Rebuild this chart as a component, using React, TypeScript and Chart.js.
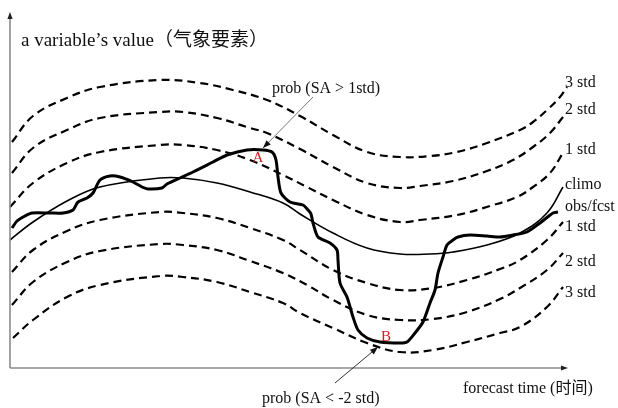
import { useEffect, useRef } from "react";
import { Chart, registerables } from "chart.js";

Chart.register(...registerables);

const timeMax = 558;
const valueMax = 356;

const plus3Std: [number, number][] = [
  [2, 226], [23, 252], [57, 270], [90, 281], [150, 288], [190, 285], [223, 278], [257, 268],
  [290, 252], [323, 233], [357, 216], [390, 211], [420, 212], [447, 216], [477, 225], [510, 238],
  [523, 246], [537, 258], [550, 271], [557, 281],
];
const plus2Std: [number, number][] = [
  [2, 195], [23, 220], [57, 238], [90, 250], [150, 256], [173, 256], [207, 250], [240, 240],
  [257, 235], [290, 219], [323, 201], [357, 185], [390, 180], [410, 182], [443, 187], [477, 197],
  [503, 208], [523, 221], [540, 235], [553, 251],
];
const plus1Std: [number, number][] = [
  [0, 161], [23, 185], [57, 205], [90, 216], [150, 223], [173, 223], [207, 218], [240, 208],
  [273, 193], [297, 181], [323, 168], [357, 153], [390, 146], [410, 148], [447, 153], [480, 162],
  [507, 171], [523, 181], [540, 195], [553, 215],
];
const climo: [number, number][] = [
  [0, 128], [23, 146], [57, 167], [90, 181], [150, 190], [173, 190], [207, 185], [240, 176],
  [273, 165], [290, 154], [323, 135], [357, 120], [390, 114], [420, 114], [443, 116], [477, 123],
  [510, 135], [537, 155], [553, 181],
];
const minus1Std: [number, number][] = [
  [2, 96], [23, 118], [57, 137], [90, 148], [150, 156], [173, 155], [207, 150], [240, 140],
  [273, 128], [290, 118], [323, 98], [357, 85], [390, 78], [423, 80], [457, 88], [490, 99],
  [510, 108], [537, 128], [553, 146],
];
const minus2Std: [number, number][] = [
  [2, 63], [23, 86], [57, 106], [90, 117], [150, 124], [173, 123], [207, 118], [240, 107],
  [273, 95], [297, 83], [323, 68], [357, 53], [390, 48], [423, 49], [457, 56], [490, 69],
  [510, 80], [537, 98], [553, 115],
];
const minus3Std: [number, number][] = [
  [3, 30], [23, 48], [57, 71], [90, 83], [150, 92], [173, 91], [207, 86], [240, 76],
  [273, 65], [290, 55], [323, 40], [357, 25], [390, 16], [423, 18], [457, 26], [490, 35],
  [510, 41], [537, 61], [553, 81],
];
const obsFcst: [number, number][] = [
  [2, 140], [7, 147], [15, 152], [22, 155], [40, 155], [53, 155], [63, 158], [68, 166],
  [77, 170], [83, 175], [90, 188], [100, 192], [110, 191], [123, 186], [132, 181], [138, 179],
  [152, 180], [157, 184], [170, 190], [183, 196], [203, 206], [217, 213], [237, 218], [253, 218],
  [262, 216], [266, 208], [268, 191], [271, 175], [280, 166], [293, 163], [298, 158], [301, 154],
  [303, 145], [308, 131], [320, 125], [327, 118], [328, 108], [330, 85], [337, 71], [343, 51],
  [348, 38], [357, 30], [370, 26], [390, 25], [397, 26], [405, 35], [413, 46], [420, 65],
  [425, 78], [428, 95], [433, 111], [437, 123], [443, 128], [448, 131], [460, 133], [477, 132],
  [490, 131], [503, 133], [517, 136], [530, 145], [543, 155], [548, 156],
];

// text annotations: [text, time, value, colour, size]
const curveLabels: [string, number, number][] = [
  ["3 std", 555, 285],
  ["2 std", 555, 258],
  ["1 std", 555, 218],
  ["climo", 555, 183],
  ["obs/fcst", 555, 161],
  ["1 std", 555, 141],
  ["2 std", 555, 106],
  ["3 std", 555, 75],
];
const yTitle = "a variable\u2019s value（气象要素）";
const xTitle = "forecast time (时间)";
const probAbove = "prob (SA > 1std)";
const probBelow = "prob (SA < -2 std)";

const SERIF = '"Liberation Serif", "Times New Roman", "Noto Sans CJK SC", serif';

export default function App() {
  const ref = useRef<HTMLCanvasElement>(null);

  useEffect(() => {
    const canvas = ref.current;
    if (!canvas) return;
    const pts = (a: [number, number][]) => a.map(([x, y]) => ({ x, y }));
    const dashed = (label: string, arr: [number, number][]) => ({
      label,
      data: pts(arr),
      borderColor: "#000",
      borderWidth: 2.2,
      borderDash: [8, 5],
      borderCapStyle: "butt" as const,
      pointRadius: 0,
      tension: 0.4,
      fill: false,
      clip: false as const,
    });

    const overlay = {
      id: "overlay",
      afterDraw(chart: any) {
        const ctx: CanvasRenderingContext2D = chart.ctx;
        const xs = chart.scales.x;
        const ys = chart.scales.y;
        const px = (t: number) => xs.getPixelForValue(t);
        const py = (v: number) => ys.getPixelForValue(v);
        const x0 = px(0);
        const y0 = py(0);
        const xEnd = px(timeMax);
        const yEnd = py(valueMax);

        const head = (fx: number, fy: number, tx: number, ty: number, len: number, w: number, col: string) => {
          const a = Math.atan2(ty - fy, tx - fx);
          ctx.save();
          ctx.fillStyle = col;
          ctx.beginPath();
          ctx.moveTo(tx, ty);
          ctx.lineTo(tx - len * Math.cos(a) + w * Math.sin(a), ty - len * Math.sin(a) - w * Math.cos(a));
          ctx.lineTo(tx - len * Math.cos(a) - w * Math.sin(a), ty - len * Math.sin(a) + w * Math.cos(a));
          ctx.closePath();
          ctx.fill();
          ctx.restore();
        };
        const arrow = (fx: number, fy: number, tx: number, ty: number, col: string, hc: string) => {
          ctx.save();
          ctx.strokeStyle = col;
          ctx.lineWidth = 1;
          ctx.setLineDash([]);
          ctx.beginPath();
          ctx.moveTo(fx, fy);
          ctx.lineTo(tx, ty);
          ctx.stroke();
          ctx.restore();
          head(fx, fy, tx, ty, 8, 3, hc);
        };

        // axes
        ctx.save();
        ctx.strokeStyle = "#8c8c8c";
        ctx.lineWidth = 1.6;
        ctx.beginPath();
        ctx.moveTo(x0, y0);
        ctx.lineTo(x0, yEnd + 4);
        ctx.moveTo(x0, y0);
        ctx.lineTo(xEnd - 4, y0);
        ctx.stroke();
        ctx.restore();
        head(x0, y0, x0, yEnd, 7, 2.6, "#222");
        head(x0, y0, xEnd, y0, 7, 2.6, "#222");

        // annotation arrows
        arrow(px(303), py(271), px(253), py(220), "#777", "#111");
        arrow(px(325), py(-15), px(368), py(21), "#333", "#111");

        ctx.save();
        ctx.textBaseline = "middle";
        ctx.textAlign = "left";
        ctx.fillStyle = "#111";
        ctx.font = `19px ${SERIF}`;
        ctx.fillText(yTitle, px(11), py(327));
        ctx.font = `16px ${SERIF}`;
        ctx.fillText(xTitle, px(453), py(-21));
        ctx.fillText(probAbove, px(262), py(279));
        ctx.fillText(probBelow, px(252), py(-31));
        for (const [text, t, v] of curveLabels) ctx.fillText(text, px(t), py(v));
        ctx.fillStyle = "#d42020";
        ctx.font = `15px ${SERIF}`;
        ctx.textAlign = "center";
        ctx.fillText("A", px(248), py(210));
        ctx.fillText("B", px(376), py(31));
        ctx.restore();
      },
    };

    const chart = new Chart(canvas, {
      type: "line",
      data: {
        datasets: [
          dashed("3 std", plus3Std),
          dashed("2 std", plus2Std),
          dashed("1 std", plus1Std),
          {
            label: "climo",
            data: pts(climo),
            borderColor: "#000",
            borderWidth: 1.6,
            pointRadius: 0,
            tension: 0.4,
            fill: false,
            clip: false as const,
          },
          dashed("-1 std", minus1Std),
          dashed("-2 std", minus2Std),
          dashed("-3 std", minus3Std),
          {
            label: "obs/fcst",
            data: pts(obsFcst),
            borderColor: "#000",
            borderWidth: 3,
            pointRadius: 0,
            tension: 0.25,
            borderJoinStyle: "round" as const,
            fill: false,
            clip: false as const,
          },
        ],
      },
      options: {
        animation: false,
        responsive: false,
        maintainAspectRatio: false,
        events: [],
        layout: { padding: { left: 10, top: 12, right: 50, bottom: 40 } },
        plugins: { legend: { display: false }, tooltip: { enabled: false }, title: { display: false } },
        scales: {
          x: { type: "linear", min: 0, max: timeMax, display: false },
          y: { type: "linear", min: 0, max: valueMax, display: false },
        },
      },
      plugins: [overlay],
    } as any);
    return () => chart.destroy();
  }, []);

  return (
    <div style={{ position: "fixed", left: 0, top: 0, width: 618, height: 408, background: "#fff" }}>
      <canvas ref={ref} width={618} height={408} style={{ display: "block" }} />
    </div>
  );
}
